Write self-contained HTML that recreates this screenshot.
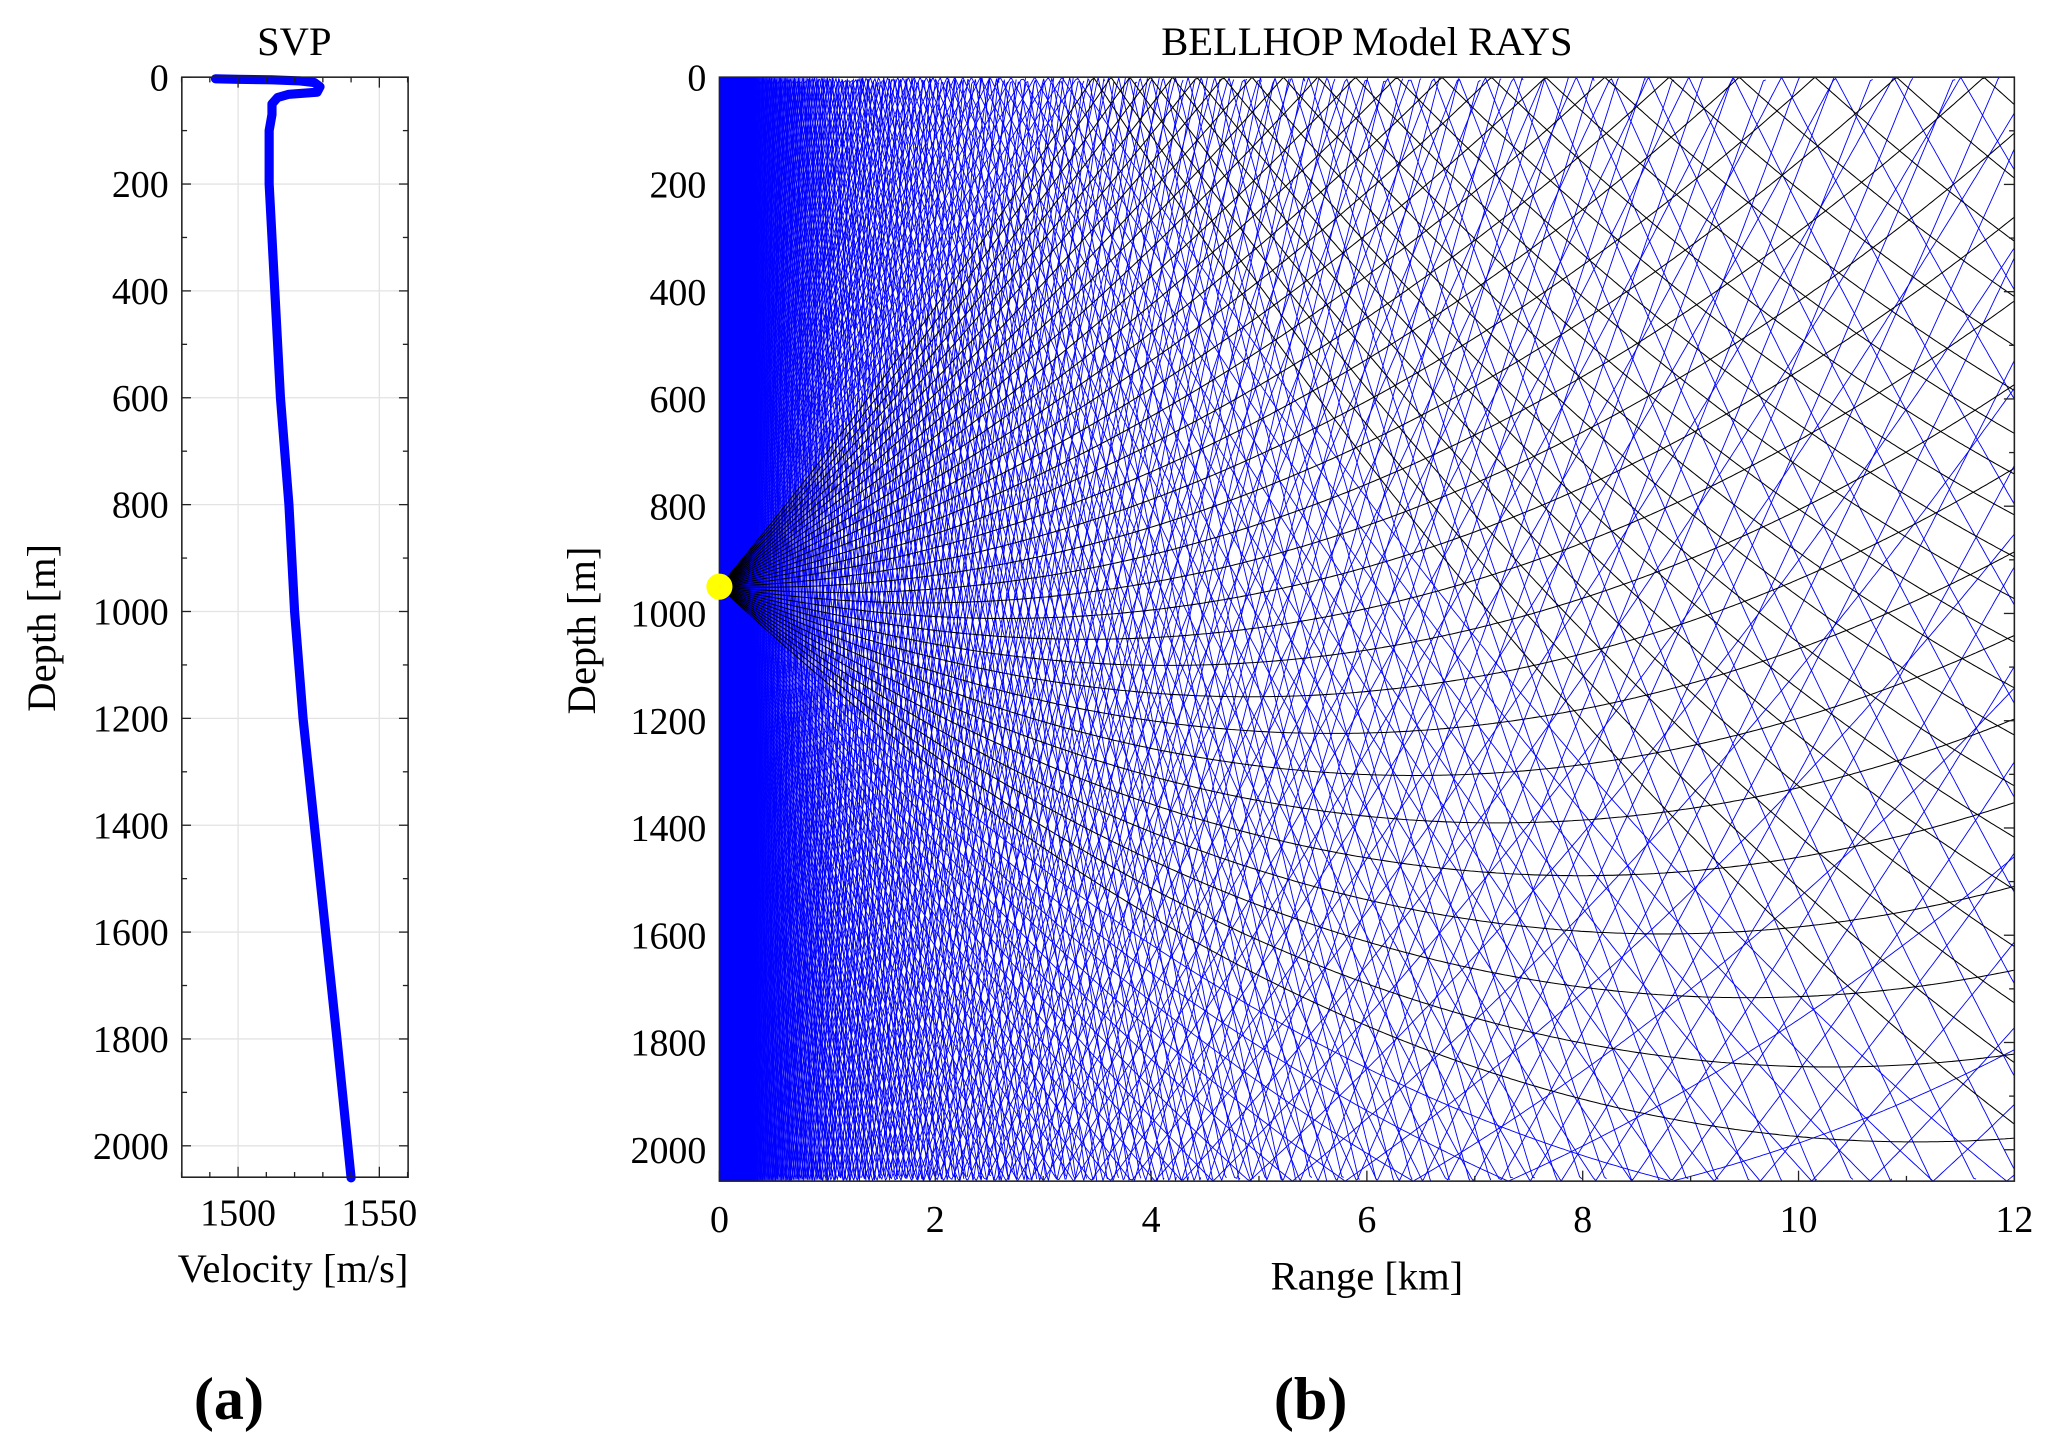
<!DOCTYPE html>
<html><head><meta charset="utf-8"><style>
html,body{margin:0;padding:0;background:#fff;}
svg{display:block;}
text{font-family:"Liberation Serif",serif;fill:#000;}
</style></head><body>
<svg id="s" width="2051" height="1450" viewBox="0 0 1568 1108.55" xmlns="http://www.w3.org/2000/svg">
<defs><clipPath id="cp"><rect x="550" y="59" width="990" height="844"/></clipPath>
<linearGradient id="gf" x1="0" x2="1" y1="0" y2="0"><stop offset="0" stop-color="#0000ff" stop-opacity="1"/><stop offset="0.3" stop-color="#0000ff" stop-opacity="1"/><stop offset="1" stop-color="#0000ff" stop-opacity="0"/></linearGradient></defs>
<g id="svp"></g>
<g id="rays" clip-path="url(#cp)"></g>
<g id="ax"></g>
<text x="225" y="42" font-size="31" text-anchor="middle">SVP</text>
<text x="1045" y="42" font-size="31" text-anchor="middle">BELLHOP Model RAYS</text>
<text x="224" y="980" font-size="31" text-anchor="middle">Velocity [m/s]</text>
<text x="1045" y="986" font-size="31" text-anchor="middle">Range [km]</text>
<text transform="translate(42,480) rotate(-90)" font-size="31" text-anchor="middle">Depth [m]</text>
<text transform="translate(455,482) rotate(-90)" font-size="31" text-anchor="middle">Depth [m]</text>
<text x="175" y="1085" font-size="46" font-weight="bold" text-anchor="middle">(a)</text>
<text x="1002" y="1085" font-size="46" font-weight="bold" text-anchor="middle">(b)</text>
</svg>
<script>
var NS="http://www.w3.org/2000/svg";
function el(p,t,a){var e=document.createElementNS(NS,t);for(var k in a)e.setAttribute(k,a[k]);p.appendChild(e);return e;}
var svp=document.getElementById('svp'),ax=document.getElementById('ax'),rays=document.getElementById('rays');
var L=139,R=312,T=59,B=900;
function vy(d){return 59+d*0.4085;}
function vx(v){return 182+(v-1500)*2.16;}
[1500,1550].forEach(function(v){el(svp,'line',{x1:vx(v),x2:vx(v),y1:T,y2:B,stroke:'#e3e3e3','stroke-width':1});});
for(var d=200;d<=2000;d+=200)el(svp,'line',{x1:L,x2:R,y1:vy(d),y2:vy(d),stroke:'#e3e3e3','stroke-width':1});
var pts=[[1492,3],[1500,4],[1512,5],[1522,7],[1527,10],[1529,18],[1528,28],[1518,32],[1514,38],[1512,50],[1512,70],[1511,100],[1511,200],[1513,400],[1515,600],[1518,800],[1520,1000],[1523,1200],[1527,1400],[1531,1600],[1535,1800],[1540,2060]];
el(svp,'polyline',{points:pts.map(function(p){return vx(p[0])+','+vy(p[1]);}).join(' '),fill:'none',stroke:'#0000ff','stroke-width':7,'stroke-linejoin':'round','stroke-linecap':'round'});
el(svp,'rect',{x:L,y:T,width:R-L,height:B-T,fill:'none',stroke:'#222','stroke-width':1.2});
for(var d=0;d<=2000;d+=100){var y=vy(d),len=d%200==0?7:4;
 el(ax,'line',{x1:L,x2:L+len,y1:y,y2:y,stroke:'#222'});el(ax,'line',{x1:R,x2:R-len,y1:y,y2:y,stroke:'#222'});
 if(d%200==0){var t=el(ax,'text',{x:L-10,y:y+10,'font-size':29,'text-anchor':'end'});t.textContent=d;}}
for(var v=1480;v<=1560;v+=10){var x=vx(v),len=v%50==0?8:4;el(ax,'line',{x1:x,x2:x,y1:B,y2:B-len,stroke:'#222'});el(ax,'line',{x1:x,x2:x,y1:T,y2:T+len,stroke:'#222'});}
[1500,1550].forEach(function(v){var t=el(ax,'text',{x:vx(v),y:937,'font-size':29,'text-anchor':'middle'});t.textContent=v;});
var RL=550,RR=1540,RT=59,RB=903,sx=82.5,sy=0.41;
var zb=(RB-RT)/sy, zs=950, k=1.7e-5;
var N=240, Lmax=14500, ds=12, MAXH=3;
var blue=[],black=[];
for(var i=0;i<N;i++){
 var th=(-88+176*i/(N-1))*Math.PI/180;
 var x=0,z=zs,hit=false,nh=0,p=[];
 p.push((RL).toFixed(1)+','+(RT+z*sy).toFixed(1));
 var cnt=0;
 for(var s=0;s<Lmax;s+=ds){
  var c=1+k*(z-zs);
  th+= -(k/c)*Math.cos(th)*ds;
  x+=Math.cos(th)*ds; z+=Math.sin(th)*ds;
  var b=false;
  if(z<0){z=-z;th=-th;nh++;b=true;}
  if(z>zb){z=2*zb-z;th=-th;hit=true;nh++;b=true;}
  if(x>12200)break;
  cnt++;
  if(cnt%2==0||b)p.push((RL+x/1000*sx).toFixed(1)+','+(RT+z*sy).toFixed(1));
  if(hit&&nh>=MAXH)break;
 }
 (hit?blue:black).push(p.join(' '));
}
blue.forEach(function(q){el(rays,'polyline',{points:q,fill:'none',stroke:'#0000ff','stroke-width':0.7});});
el(rays,'rect',{x:550,y:59,width:90,height:844,fill:'url(#gf)'});
black.forEach(function(q){el(rays,'polyline',{points:q,fill:'none',stroke:'#000','stroke-width':0.8});});
el(ax,'rect',{x:RL,y:RT,width:RR-RL,height:RB-RT,fill:'none',stroke:'#222','stroke-width':1.2});
for(var d=0;d<=2000;d+=100){var y=RT+d*sy,len=d%200==0?8:4;
 el(ax,'line',{x1:RR,x2:RR-len,y1:y,y2:y,stroke:'#222'});
 if(d%200==0){var t=el(ax,'text',{x:RL-10,y:y+10,'font-size':29,'text-anchor':'end'});t.textContent=d;}}
for(var r=0;r<=12;r+=1){var x=RL+r*sx,len=r%2==0?8:4;el(ax,'line',{x1:x,x2:x,y1:RB,y2:RB-len,stroke:'#222'});
 if(r%2==0){var t=el(ax,'text',{x:x,y:942,'font-size':29,'text-anchor':'middle'});t.textContent=r;}}
el(ax,'circle',{cx:550,cy:RT+950*sy,r:10,fill:'#ffff00'});
</script>
</body></html>
